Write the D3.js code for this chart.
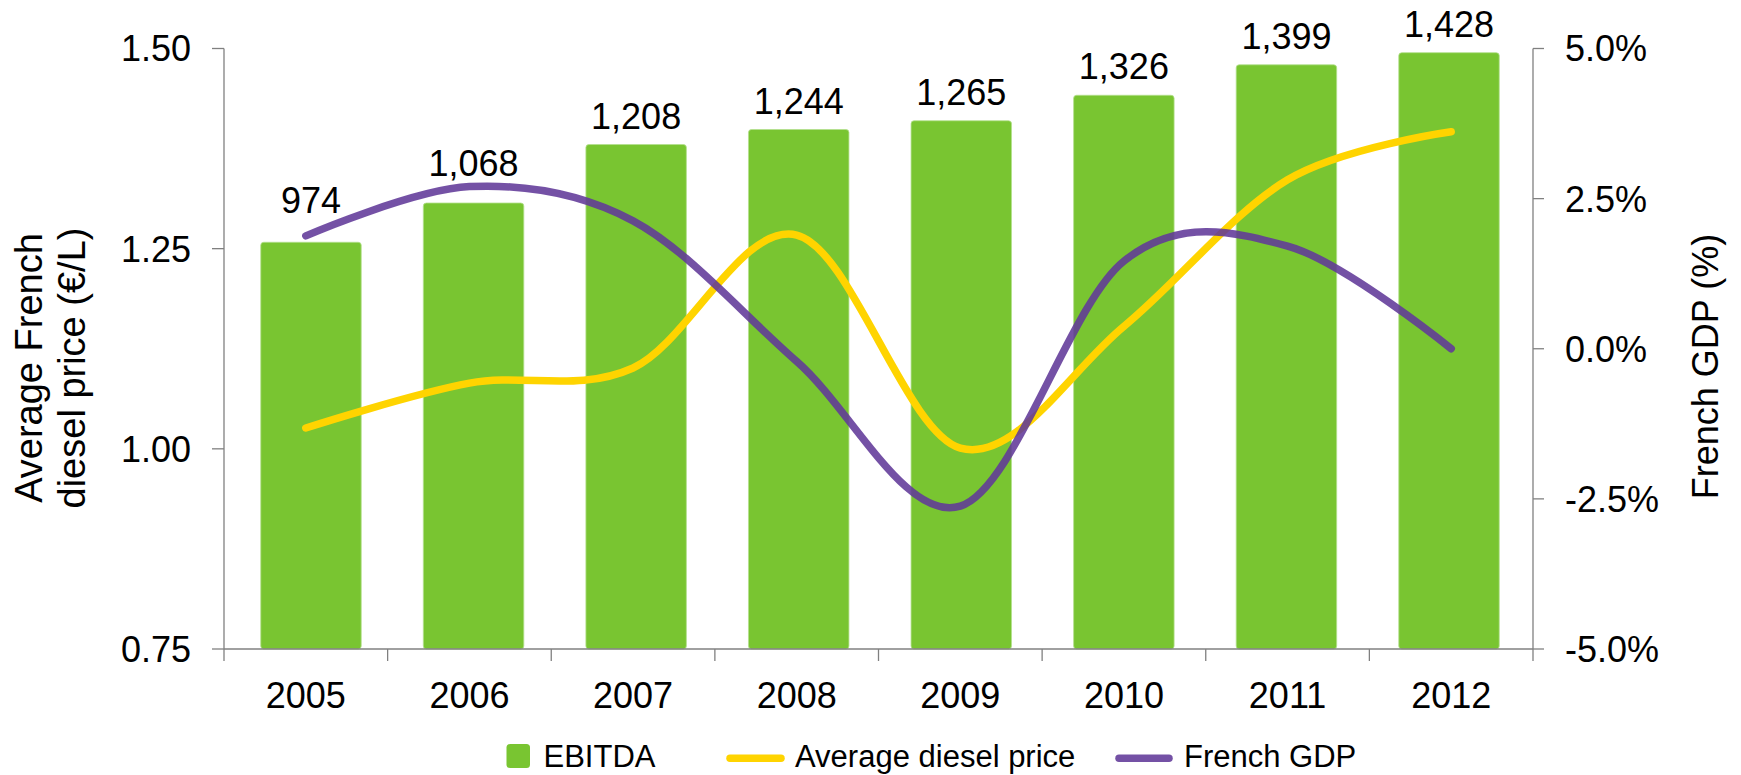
<!DOCTYPE html>
<html>
<head>
<meta charset="utf-8">
<script src="https://cdn.jsdelivr.net/npm/d3@7"></script>
<style>
  html, body { margin: 0; padding: 0; background: #fff; }
  svg { display: block; }
  text { font-family: "Liberation Sans", Arial, sans-serif; fill: #000; }
</style>
</head>
<body>
<div id="chart"></div>
<script>
// ---- data ----
const years = ["2005", "2006", "2007", "2008", "2009", "2010", "2011", "2012"];
const ebitda = [974, 1068, 1208, 1244, 1265, 1326, 1399, 1428];
const dieselPrice = [1.026, 1.082, 1.101, 1.267, 1.001, 1.153, 1.336, 1.396];
const frenchGDP = [1.88, 2.70, 2.13, -0.21, -2.62, 1.46, 1.71, 0.0];
const leftTicks = [0.75, 1.00, 1.25, 1.50];
const rightTicks = [-5.0, -2.5, 0.0, 2.5, 5.0];
const seriesNames = ["EBITDA", "Average diesel price", "French GDP"];
const leftTitle = ["Average French", "diesel price (€/L)"];
const rightTitle = "French GDP (%)";

// ---- layout ----
const W = 1741, H = 775;
const plot = { left: 224, right: 1533, top: 48.5, bottom: 649 };
const colors = { bar: "#79c531", diesel: "#ffd400", gdp: "#613999", axis: "#808080" };
const labelLift = [13, 11, 0, 0, 0, 0, 0, 0]; // manual lift of labels clear of the GDP line

const svg = d3.select("#chart").append("svg").attr("width", W).attr("height", H);

const x = d3.scaleBand().domain(years).range([plot.left, plot.right]);
const xBar = d3.scaleBand().domain(years).range([229.7, 1530.3]);
const yLeft = d3.scaleLinear().domain([0.75, 1.5]).range([plot.bottom, plot.top]);
const yRight = d3.scaleLinear().domain([-5, 5]).range([plot.bottom, plot.top]);
const yBar = d3.scaleLinear().domain([0, 1438]).range([plot.bottom, plot.top]);

// ---- bars ----
const barW = xBar.step() * 0.618;
svg.append("g").selectAll("rect").data(years).join("rect")
  .attr("x", (d) => xBar(d) + xBar.step() / 2 - barW / 2)
  .attr("y", (d, i) => yBar(ebitda[i]))
  .attr("width", barW)
  .attr("height", (d, i) => plot.bottom - yBar(ebitda[i]))
  .attr("rx", 3)
  .attr("fill", colors.bar)
  .attr("stroke", "#b4df8e")
  .attr("stroke-width", 0.8);

// ---- axes ----
const axisG = svg.append("g").attr("stroke", colors.axis).attr("stroke-width", 1.3).attr("fill", "none");
// left axis
axisG.append("line").attr("x1", plot.left).attr("x2", plot.left).attr("y1", plot.top).attr("y2", plot.bottom);
axisG.selectAll("line.lt").data(leftTicks).join("line").attr("class", "lt")
  .attr("x1", plot.left - 12).attr("x2", plot.left)
  .attr("y1", (d) => yLeft(d)).attr("y2", (d) => yLeft(d));
// right axis
axisG.append("line").attr("x1", plot.right).attr("x2", plot.right).attr("y1", plot.top).attr("y2", plot.bottom);
axisG.selectAll("line.rt").data(rightTicks).join("line").attr("class", "rt")
  .attr("x1", plot.right).attr("x2", plot.right + 11)
  .attr("y1", (d) => yRight(d)).attr("y2", (d) => yRight(d));
// bottom axis
axisG.append("line").attr("x1", plot.left).attr("x2", plot.right).attr("y1", plot.bottom).attr("y2", plot.bottom);
const xTickPos = years.map((d) => x(d)).concat([plot.right]);
axisG.selectAll("line.bt").data(xTickPos).join("line").attr("class", "bt")
  .attr("x1", (d) => d).attr("x2", (d) => d)
  .attr("y1", plot.bottom).attr("y2", plot.bottom + 12);

// tick labels
svg.append("g").selectAll("text").data(leftTicks).join("text")
  .attr("x", 191).attr("y", (d) => yLeft(d) + 12.9)
  .attr("text-anchor", "end").attr("font-size", 36)
  .text((d) => d.toFixed(2));
svg.append("g").selectAll("text").data(rightTicks).join("text")
  .attr("x", 1565).attr("y", (d) => yRight(d) + 12.9)
  .attr("text-anchor", "start").attr("font-size", 36)
  .text((d) => d.toFixed(1) + "%");
svg.append("g").selectAll("text").data(years).join("text")
  .attr("x", (d) => x(d) + x.bandwidth() / 2).attr("y", 708.3)
  .attr("text-anchor", "middle").attr("font-size", 36)
  .text((d) => d);

// axis titles
const lt = svg.append("text")
  .attr("transform", "translate(41.7,368) rotate(-90)")
  .attr("text-anchor", "middle").attr("font-size", 38);
lt.selectAll("tspan").data(leftTitle).join("tspan")
  .attr("x", 0).attr("y", (d, i) => i * 43.3).text((d) => d);
svg.append("text")
  .attr("transform", "translate(1718,366.5) rotate(-90)")
  .attr("text-anchor", "middle").attr("font-size", 36)
  .text(rightTitle);

// ---- lines ----
const cx = (i) => x(years[i]) + x.bandwidth() / 2;
const dieselLine = d3.line().x((d, i) => cx(i)).y((d) => yLeft(d)).curve(d3.curveCardinal.tension(0));
const gdpLine = d3.line().x((d, i) => cx(i)).y((d) => yRight(d)).curve(d3.curveCardinal.tension(0));
svg.append("path").attr("d", dieselLine(dieselPrice))
  .attr("fill", "none").attr("stroke", colors.diesel).attr("stroke-width", 7.5)
  .attr("stroke-linecap", "round").attr("stroke-linejoin", "round");
svg.append("path").attr("d", gdpLine(frenchGDP))
  .attr("fill", "none").attr("stroke", colors.gdp).attr("stroke-opacity", 0.88).attr("stroke-width", 7.5)
  .attr("stroke-linecap", "round").attr("stroke-linejoin", "round");

// ---- bar labels ----
svg.append("g").selectAll("text").data(years).join("text")
  .attr("x", (d) => xBar(d) + xBar.step() / 2)
  .attr("y", (d, i) => yBar(ebitda[i]) - 16 - labelLift[i])
  .attr("text-anchor", "middle").attr("font-size", 36)
  .text((d, i) => d3.format(",")(ebitda[i]));

// ---- legend ----
const lg = svg.append("g");
lg.append("rect").attr("x", 506.5).attr("y", 744).attr("width", 23.5).attr("height", 24)
  .attr("rx", 3.5).attr("fill", colors.bar);
lg.append("text").attr("x", 543.5).attr("y", 766.7).attr("font-size", 31).text(seriesNames[0]);
lg.append("line").attr("x1", 730).attr("x2", 781).attr("y1", 758.3).attr("y2", 758.3)
  .attr("stroke", colors.diesel).attr("stroke-width", 7.5).attr("stroke-linecap", "round");
lg.append("text").attr("x", 795).attr("y", 766.7).attr("font-size", 31).text(seriesNames[1]);
lg.append("line").attr("x1", 1119).attr("x2", 1169).attr("y1", 758.3).attr("y2", 758.3)
  .attr("stroke", colors.gdp).attr("stroke-opacity", 0.88).attr("stroke-width", 7.5).attr("stroke-linecap", "round");
lg.append("text").attr("x", 1184).attr("y", 766.7).attr("font-size", 31).text(seriesNames[2]);
</script>
</body>
</html>
